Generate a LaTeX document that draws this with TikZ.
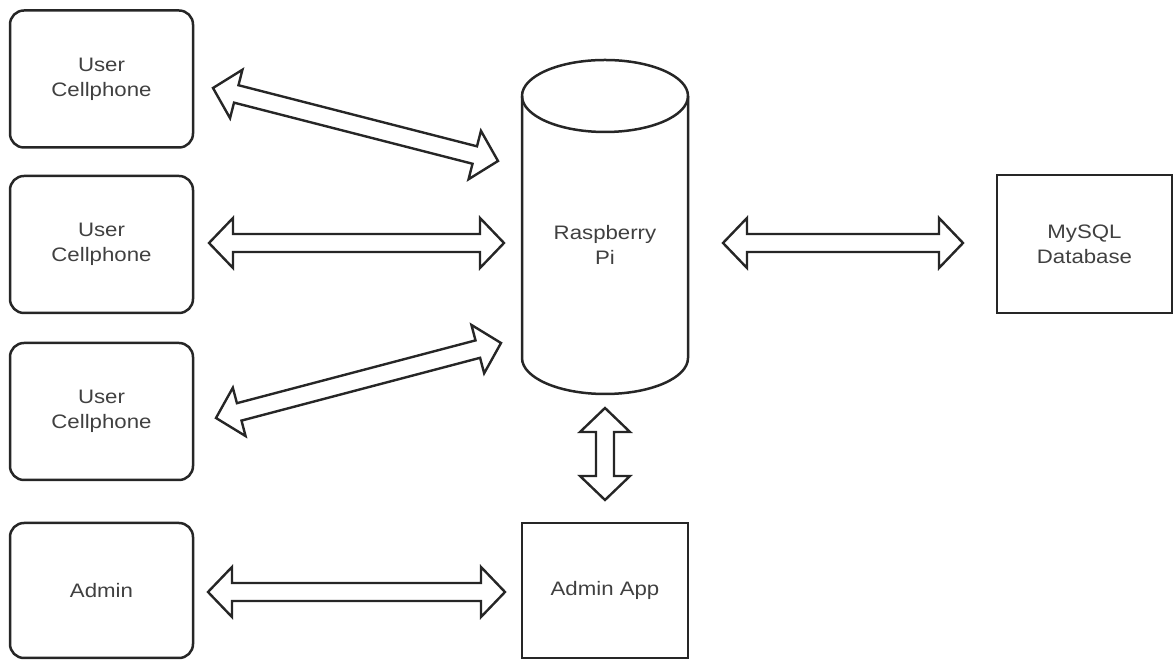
\documentclass[tikz,border=0pt]{standalone}
\usepackage{fontspec}
\setmainfont[FakeStretch=1.14]{Liberation Sans}
\usetikzlibrary{calc}
\definecolor{linec}{HTML}{262626}
\definecolor{textc}{HTML}{404040}
\tikzset{
  userbox/.style={draw=linec, line width=2.5pt, rounded corners=14pt, minimum width=183pt, minimum height=137pt, inner sep=0pt},
  plainbox/.style={draw=linec, line width=2.5pt, inner sep=0pt},
  lbl/.style={text=textc, font=\fontsize{19.5}{25}\selectfont, align=center},
  flexarrow/.style={draw=linec, line width=2.4pt, line join=miter, fill=white}
}
\newcommand{\flexdbl}[2]{%
  \path[flexarrow] (#1)
    -- ($(#1)!24pt!(#2)!25pt!90:(#2)$)
    -- ($(#1)!24pt!(#2)!9pt!90:(#2)$)
    -- ($(#2)!24pt!(#1)!9pt!-90:(#1)$)
    -- ($(#2)!24pt!(#1)!25pt!-90:(#1)$)
    -- (#2)
    -- ($(#2)!24pt!(#1)!25pt!90:(#1)$)
    -- ($(#2)!24pt!(#1)!9pt!90:(#1)$)
    -- ($(#1)!24pt!(#2)!9pt!-90:(#2)$)
    -- ($(#1)!24pt!(#2)!25pt!-90:(#2)$)
    -- cycle;}
\begin{document}
\begin{tikzpicture}[x=1pt,y=1pt]
\useasboundingbox (0,0) rectangle (1174,660);
% boxes
\node[userbox, lbl] (u1) at (101.5,581) {User\\Cellphone};
\node[userbox, lbl] (u2) at (101.5,415.5) {User\\Cellphone};
\node[userbox, lbl] (u3) at (101.5,248.5) {User\\Cellphone};
\node[userbox, lbl, minimum height=135pt] (admin) at (101.5,69.5) {Admin};
\node[plainbox, lbl, minimum width=166pt, minimum height=135pt] (app) at (605,69.5) {Admin App};
\node[plainbox, lbl, minimum width=175pt, minimum height=138pt] (db) at (1084.5,416) {MySQL\\Database};
% cylinder
\node[minimum width=166pt, minimum height=333pt, inner sep=0pt] (rpi) at (605,433.5) {};
\draw[draw=linec, line width=2.5pt] (522,564) -- (522,302)
  arc[start angle=180, end angle=360, x radius=83, y radius=36]
  -- (688,564)
  arc[start angle=0, end angle=180, x radius=83, y radius=36] -- cycle;
\draw[draw=linec, line width=2.5pt] (522,564) arc[start angle=180, end angle=360, x radius=83, y radius=36];
\node[lbl] (rpitext) at (605,415) {Raspberry\\Pi};
% arrow end points
\coordinate (a1s) at (213,572); \coordinate (a1e) at (498,499);
\coordinate (a2s) at (209,417); \coordinate (a2e) at (504,417);
\coordinate (a3s) at (216,242); \coordinate (a3e) at (501,317);
\coordinate (a4s) at (723,417); \coordinate (a4e) at (963,417);
\coordinate (a5s) at (605,252); \coordinate (a5e) at (605,160);
\coordinate (a6s) at (208,68);  \coordinate (a6e) at (505,68);
\flexdbl{a1s}{a1e}
\flexdbl{a2s}{a2e}
\flexdbl{a3s}{a3e}
\flexdbl{a4s}{a4e}
\flexdbl{a5s}{a5e}
\flexdbl{a6s}{a6e}
\end{tikzpicture}
\end{document}
